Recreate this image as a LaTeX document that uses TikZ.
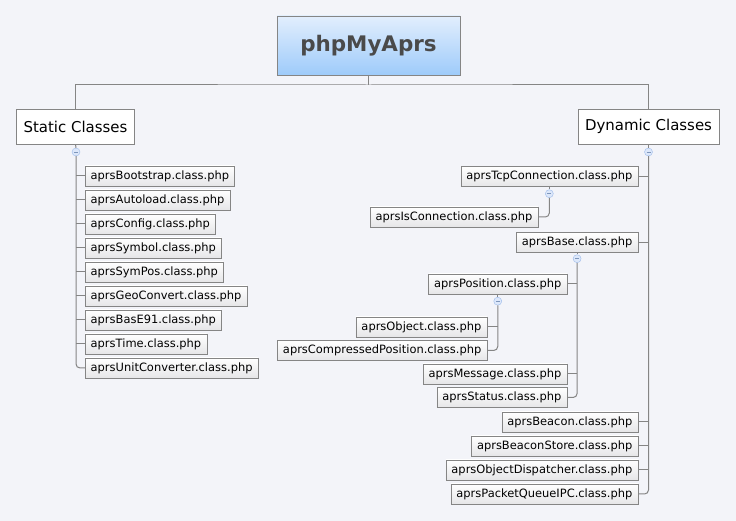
\documentclass[tikz,border=0pt]{standalone}
\usepackage{fontspec}
\setmainfont{DejaVu Sans}
\usepackage{tikz}
\usetikzlibrary{positioning}
\definecolor{bgcol}{HTML}{F3F4F9}
\definecolor{linecol}{HTML}{858585}
\definecolor{rootTop}{HTML}{E2EEFD}
\definecolor{rootBot}{HTML}{9ECBFA}
\definecolor{rootText}{HTML}{4A4A4A}
\definecolor{leafBot}{HTML}{E6E6E8}
\definecolor{foldLine}{HTML}{9DBBEA}
\definecolor{foldFill}{HTML}{DCE7FA}
\tikzstyle{rootbox} = [rectangle, draw=linecol, top color=rootTop, bottom color=rootBot, minimum width=183bp, minimum height=59bp, text=rootText, font=\fontsize{21.5}{24}\selectfont\bfseries]
\tikzstyle{topic} = [rectangle, draw=linecol, fill=white, minimum height=35bp, inner xsep=7bp, font=\fontsize{15}{18}\selectfont]
\tikzstyle{leaf} = [rectangle, draw=linecol, top color=white, bottom color=leafBot, minimum height=20bp, inner xsep=5.5bp, inner ysep=0pt, font=\fontsize{11.5}{13}\selectfont]
\tikzstyle{fold} = [circle, draw=foldLine, fill=foldFill, minimum size=8bp, inner sep=0pt,
  path picture={\draw[foldLine!80!black, line width=0.8bp] ([xshift=-2bp]path picture bounding box.center) -- ([xshift=2bp]path picture bounding box.center);}]
\tikzstyle{conn} = [draw=linecol, line width=1bp]
\tikzstyle{trunk} = [conn, rounded corners=4bp]

\begin{document}
\begin{tikzpicture}
\path[use as bounding box, fill=bgcol] (0,0) rectangle (736bp,521bp);
%% root and the two main topics
\node (root) at (368.5bp,475.5bp) [rootbox] {phpMyAprs};
\node (static) at (75.5bp,394.5bp) [topic] {Static Classes};
\node (dynamic) at (648.5bp,394.5bp) [topic] {Dynamic Classes};
\coordinate (hub) at (368.5bp,436bp);
\draw[conn] (root.south) -- (hub);
\draw[conn] (static.north) |- (hub) -| (dynamic.north);
%% static classes
\node (scfold) at (76bp,369bp) [fold] {};
\node (bootstrap) at (85bp,345bp) [leaf,anchor=west] {aprsBootstrap.class.php};
\node (autoload) at (85bp,321bp) [leaf,anchor=west] {aprsAutoload.class.php};
\node (config) at (85bp,297bp) [leaf,anchor=west] {aprsConfig.class.php};
\node (symbol) at (85bp,273bp) [leaf,anchor=west] {aprsSymbol.class.php};
\node (sympos) at (85bp,249bp) [leaf,anchor=west] {aprsSymPos.class.php};
\node (geoconv) at (85bp,225bp) [leaf,anchor=west] {aprsGeoConvert.class.php};
\node (base91) at (85bp,201bp) [leaf,anchor=west] {aprsBasE91.class.php};
\node (time) at (85bp,177bp) [leaf,anchor=west] {aprsTime.class.php};
\node (unitconv) at (85bp,153bp) [leaf,anchor=west] {aprsUnitConverter.class.php};
\draw[conn] (static.south) -- (scfold.north);
\draw[trunk] (scfold.south) |- (unitconv.west);
\foreach \n in {bootstrap,autoload,config,symbol,sympos,geoconv,base91,time}
  \draw[conn] (\n.west) -- (\n.west -| scfold);
%% dynamic classes
\node (dcfold) at (648.5bp,369bp) [fold] {};
\node (tcpconn) at (638bp,344.5bp) [leaf,anchor=east] {aprsTcpConnection.class.php};
\node (tcpfold) at (tcpconn.south) [fold,yshift=-7bp] {};
\node (isconn) at (538bp,304bp) [leaf,anchor=east] {aprsIsConnection.class.php};
\node (base) at (638bp,278.5bp) [leaf,anchor=east] {aprsBase.class.php};
\node (basefold) at (base.south) [fold,yshift=-6bp] {};
\node (position) at (567bp,237bp) [leaf,anchor=east] {aprsPosition.class.php};
\node (posfold) at (position.south) [fold,yshift=-7bp] {};
\node (object) at (487bp,194bp) [leaf,anchor=east] {aprsObject.class.php};
\node (compressed) at (487bp,170.5bp) [leaf,anchor=east] {aprsCompressedPosition.class.php};
\node (message) at (567bp,147bp) [leaf,anchor=east] {aprsMessage.class.php};
\node (status) at (567bp,123.5bp) [leaf,anchor=east] {aprsStatus.class.php};
\node (beacon) at (638bp,99bp) [leaf,anchor=east] {aprsBeacon.class.php};
\node (bstore) at (638bp,75bp) [leaf,anchor=east] {aprsBeaconStore.class.php};
\node (objdisp) at (638bp,51bp) [leaf,anchor=east] {aprsObjectDispatcher.class.php};
\node (pqueue) at (638bp,27bp) [leaf,anchor=east] {aprsPacketQueueIPC.class.php};
\draw[conn] (dynamic.south) -- (dcfold.north);
\draw[trunk] (dcfold.south) |- (pqueue.west -| pqueue.east);
\foreach \n in {tcpconn,base,beacon,bstore,objdisp}
  \draw[conn] (\n.east) -- (\n.east -| dcfold);
%% tcp connection branch
\draw[conn] (tcpconn.south) -- (tcpfold.north);
\draw[trunk] (tcpfold.south) |- (isconn.east);
%% base branch
\draw[conn] (base.south) -- (basefold.north);
\draw[trunk] (basefold.south) |- (status.east);
\foreach \n in {position,message}
  \draw[conn] (\n.east) -- (\n.east -| basefold);
%% position branch
\draw[conn] (position.south) -- (posfold.north);
\draw[trunk] (posfold.south) |- (compressed.east);
\draw[conn] (object.east) -- (object.east -| posfold);
\end{tikzpicture}
\end{document}
